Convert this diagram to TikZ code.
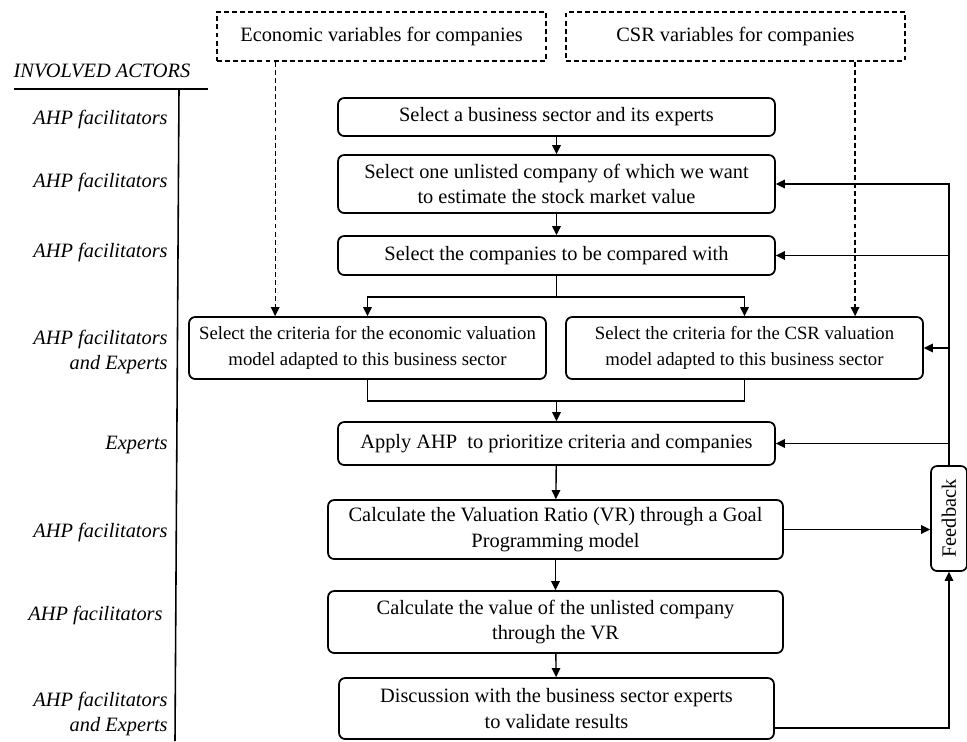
\documentclass[tikz,border=0pt]{standalone}
\usepackage{fontspec}
\setmainfont{Liberation Serif}
\usetikzlibrary{arrows.meta}

\begin{document}
\begin{tikzpicture}[x=0.02cm,y=-0.02cm,
		font=\fontsize{11.6}{14.6}\selectfont,
		>={Triangle[length=1.8mm,width=1.7mm]},
		stepbox/.style={draw,line width=1pt,rounded corners=3.5pt,align=center,inner sep=0pt},
		critbox/.style={stepbox,font=\fontsize{10.65}{14.6}\selectfont},
		varbox/.style={draw,line width=1pt,dash pattern=on 2.8pt off 1.8pt,align=center,inner sep=0pt,minimum height=0.98cm},
		actor/.style={anchor=east,inner sep=0pt,font=\fontsize{11.6}{14.6}\selectfont\itshape,align=right},
		link/.style={line width=0.8pt,->}]
	\useasboundingbox (0,0) rectangle (967,741);
	% input variables
	\node[varbox,minimum width=6.58cm] (ev) at (381.5,36.5) {Economic variables for companies};
	\node[varbox,minimum width=6.78cm] (cv) at (735.5,36.5) {CSR variables for companies};
	% actors column
	\node[anchor=center,font=\fontsize{11.6}{14.6}\selectfont\itshape] (head) at (102,71) {INVOLVED ACTORS};
	\coordinate (hl) at (14,89);
	\coordinate (hr) at (208,89);
	\coordinate (vt) at (179,89);
	\coordinate (vb) at (175,741);
	\draw[line width=0.9pt] (hl) -- (hr);
	\draw[line width=0.9pt] (vt) -- (vb);
	\foreach \y / \who in { 119/AHP facilitators, 182/AHP facilitators, 252/AHP facilitators,
			445/Experts, 532/AHP facilitators, 615/AHP facilitators }
	\node[actor] (act\y) at (168,\y) {\who};
	\node[actor] (act352) at (168,352) {AHP facilitators\\and Experts};
	\node[actor] (act714) at (168,714) {AHP facilitators\\and Experts};
	% steps
	\node[stepbox,minimum width=8.74cm,minimum height=0.76cm] (s1) at (556.5,117) {Select a business sector and its experts};
	\node[stepbox,minimum width=8.74cm,minimum height=1.16cm] (s2) at (556.5,184) {Select one unlisted company of which we want\\to estimate the stock market value};
	\node[stepbox,minimum width=8.74cm,minimum height=0.78cm] (s3) at (556.5,255.5) {Select the companies to be compared with};
	\node[critbox,minimum width=7.14cm,minimum height=1.24cm] (ea) at (367.5,348) {Select the criteria for the economic valuation\\model adapted to this business sector};
	\node[critbox,minimum width=7.14cm,minimum height=1.24cm] (cb) at (744.5,348) {Select the criteria for the CSR valuation\\model adapted to this business sector};
	\node[stepbox,minimum width=8.74cm,minimum height=0.86cm] (s5) at (556.5,443.5) {Apply AHP\ \ to prioritize criteria and companies};
	\node[stepbox,minimum width=9.1cm,minimum height=1.18cm] (s6) at (555.5,529.5) {Calculate the Valuation Ratio (VR) through a Goal\\Programming model};
	\node[stepbox,minimum width=9.1cm,minimum height=1.24cm] (s7) at (555.5,622) {Calculate the value of the unlisted company\\through the VR};
	\node[stepbox,minimum width=8.7cm,minimum height=1.22cm] (s8) at (556.5,708.5) {Discussion with the business sector experts\\to validate results};
	\node[stepbox,rotate=90,minimum width=2.1cm,minimum height=0.72cm] (fb) at (949,518.5) {Feedback};
	% flow
	\draw[link] (s1) -- (s2);
	\draw[link] (s2) -- (s3);
	\coordinate (j1) at (556.5,297);
	\draw[link,-] (s3.south) -- (j1);
	\draw[link] (j1) -| (ea.north);
	\draw[link] (j1) -| (cb.north);
	\coordinate (j2) at (556.5,401);
	\draw[link,-] (ea.south) |- (j2) -| (cb.south);
	\draw[link] (j2) -- (s5.north);
	\draw[link] (s5) -- (s6);
	\draw[link] (s6) -- (s7);
	\draw[link] (s7) -- (s8);
	\draw[link,line width=0.7pt,dash pattern=on 2.8pt off 1.8pt] ([xshift=1.18cm]ev.south west) -- ([xshift=1.18cm]ev.south west |- ea.north);
	\draw[link,line width=0.7pt,dash pattern=on 2.8pt off 1.8pt] ([xshift=5.8cm]cv.south west) -- ([xshift=5.8cm]cv.south west |- cb.north);
	% feedback loop
	\draw[link] (s6.east) -- (s6.east -| fb.north);
	\draw[link] ([yshift=-0.39cm]s8.east) -| (fb.west);
	\draw[link] (fb.east) |- (s2.east);
	\draw[link] (fb.east |- s3.east) -- (s3.east);
	\draw[link] (fb.east |- cb.east) -- (cb.east);
	\draw[link] (fb.east |- s5.east) -- (s5.east);
\end{tikzpicture}
\end{document}
